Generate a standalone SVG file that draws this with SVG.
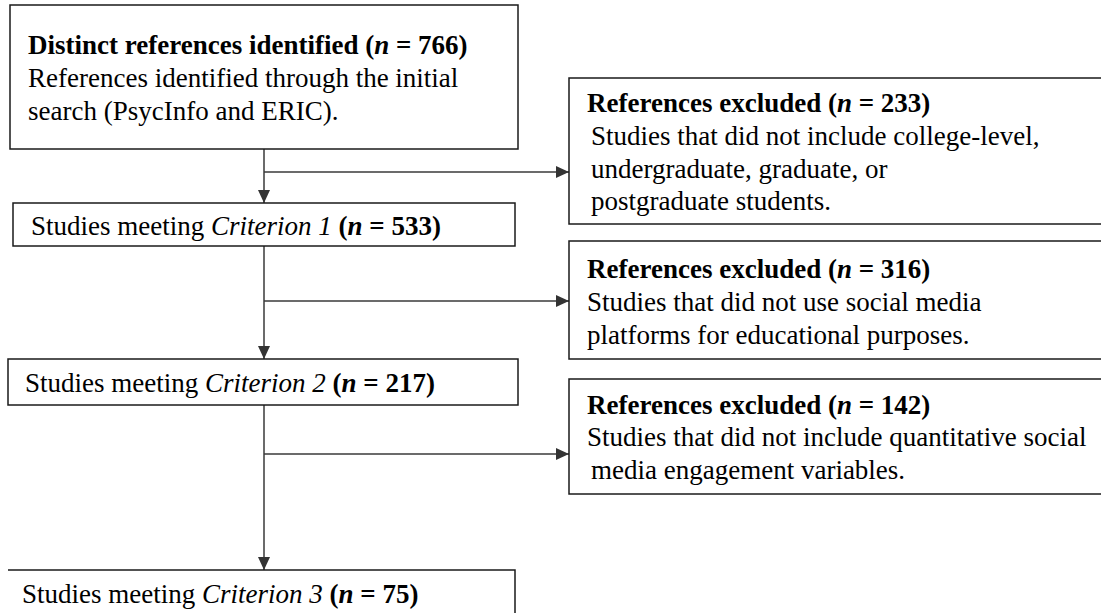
<svg xmlns="http://www.w3.org/2000/svg" width="1101" height="613" viewBox="0 0 1101 613">
<style>
  .box { fill: #ffffff; stroke: #1a1a1a; stroke-width: 1.5; }
  .edge { fill: none; stroke: #3a3a3a; stroke-width: 1.5; }
  text { font-family: "Liberation Serif", "Times New Roman", serif; font-size: 27px; fill: #000000; }
  .b { font-weight: bold; }
  .i { font-style: italic; }
</style>
<defs>
  <marker id="arrow" markerWidth="13" markerHeight="12" refX="13" refY="6" orient="auto" markerUnits="userSpaceOnUse">
    <path d="M0,0 L13,6 L0,12 Z" fill="#333333"/>
  </marker>
</defs>
<rect width="1101" height="613" fill="#ffffff"/>

<g id="connectors">
  <line class="edge" x1="264" y1="149" x2="264" y2="203" marker-end="url(#arrow)"/>
  <line class="edge" x1="264" y1="172" x2="569" y2="172" marker-end="url(#arrow)"/>
  <line class="edge" x1="264" y1="246" x2="264" y2="359" marker-end="url(#arrow)"/>
  <line class="edge" x1="264" y1="301" x2="569" y2="301" marker-end="url(#arrow)"/>
  <line class="edge" x1="264" y1="405" x2="264" y2="570" marker-end="url(#arrow)"/>
  <line class="edge" x1="264" y1="454" x2="569" y2="454" marker-end="url(#arrow)"/>
</g>

<g id="node-identified">
  <rect class="box" x="10" y="5" width="508" height="144"/>
  <text x="28" y="54"><tspan class="b">Distinct references identified (</tspan><tspan class="b i">n</tspan><tspan class="b"> = 766)</tspan></text>
  <text x="28" y="87">References identified through the initial</text>
  <text x="28" y="120">search (PsycInfo and ERIC).</text>
</g>

<g id="node-excluded-233">
  <rect class="box" x="569" y="78" width="540" height="146"/>
  <text x="587" y="112"><tspan class="b">References excluded (</tspan><tspan class="b i">n</tspan><tspan class="b"> = 233)</tspan></text>
  <text x="591" y="145">Studies that did not include college-level,</text>
  <text x="591" y="178">undergraduate, graduate, or</text>
  <text x="591" y="210">postgraduate students.</text>
</g>

<g id="node-criterion1">
  <rect class="box" x="13" y="203" width="502" height="43"/>
  <text x="31" y="235">Studies meeting <tspan class="i">Criterion 1</tspan><tspan class="b"> (</tspan><tspan class="b i">n</tspan><tspan class="b"> = 533)</tspan></text>
</g>

<g id="node-excluded-316">
  <rect class="box" x="569" y="241" width="540" height="118"/>
  <text x="587" y="278"><tspan class="b">References excluded (</tspan><tspan class="b i">n</tspan><tspan class="b"> = 316)</tspan></text>
  <text x="587" y="311">Studies that did not use social media</text>
  <text x="587" y="344">platforms for educational purposes.</text>
</g>

<g id="node-criterion2">
  <rect class="box" x="8" y="359" width="510" height="46"/>
  <text x="25" y="392">Studies meeting <tspan class="i">Criterion 2</tspan><tspan class="b"> (</tspan><tspan class="b i">n</tspan><tspan class="b"> = 217)</tspan></text>
</g>

<g id="node-excluded-142">
  <rect class="box" x="569" y="379" width="540" height="115"/>
  <text x="587" y="414"><tspan class="b">References excluded (</tspan><tspan class="b i">n</tspan><tspan class="b"> = 142)</tspan></text>
  <text x="587" y="446">Studies that did not include quantitative social</text>
  <text x="591" y="479">media engagement variables.</text>
</g>

<g id="node-criterion3">
  <path class="box" d="M8,570 H515 V620" fill="none"/>
  <text x="22" y="603">Studies meeting <tspan class="i">Criterion 3</tspan><tspan class="b"> (</tspan><tspan class="b i">n</tspan><tspan class="b"> = 75)</tspan></text>
</g>
</svg>
